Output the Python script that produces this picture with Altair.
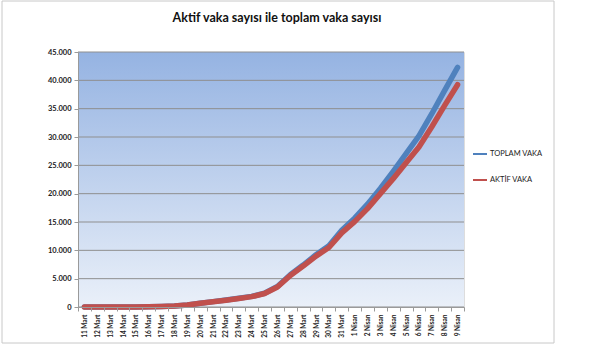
import altair as alt
import pandas as pd

dates = ["11 Mart", "12 Mart", "13 Mart", "14 Mart", "15 Mart", "16 Mart", "17 Mart",
         "18 Mart", "19 Mart", "20 Mart", "21 Mart", "22 Mart", "23 Mart", "24 Mart",
         "25 Mart", "26 Mart", "27 Mart", "28 Mart", "29 Mart", "30 Mart", "31 Mart",
         "1 Nisan", "2 Nisan", "3 Nisan", "4 Nisan", "5 Nisan", "6 Nisan", "7 Nisan",
         "8 Nisan", "9 Nisan"]
toplam = [1, 1, 5, 6, 18, 47, 98, 191, 359, 670, 947, 1236, 1529, 1872, 2433, 3629,
          5698, 7402, 9217, 10827, 13531, 15679, 18135, 20921, 23934, 27069, 30217,
          34109, 38226, 42282]
aktif = [1, 1, 5, 6, 18, 47, 97, 190, 356, 666, 938, 1206, 1492, 1828, 2374, 3528,
         5564, 7224, 8981, 10497, 13074, 15069, 17364, 20012, 22647, 25453, 28242,
         31802, 35568, 39232]
series_names = ["TOPLAM VAKA", "AKTİF VAKA"]
series_colors = ["#4f81bd", "#c0504d"]
y_ticks = [0, 5000, 10000, 15000, 20000, 25000, 30000, 35000, 40000, 45000]
title_text = ["Aktif vaka sayısı ile toplam vaka sayısı"]

W, H = 386, 255
FONT = "Lato"

df_t = pd.DataFrame({"tarih": dates, "vaka": toplam, "seri": series_names[0]})
df_a = pd.DataFrame({"tarih": dates, "vaka": aktif, "seri": series_names[1]})
df_grid = pd.DataFrame({"vaka": y_ticks})
df_one = pd.DataFrame({"a": [0]})
df_title = pd.DataFrame({"t": title_text})

xenc = alt.X("tarih:N", sort=dates, bandPosition=0.5,
             scale=alt.Scale(type="band", paddingInner=0, paddingOuter=0),
             axis=alt.Axis(title=None, labelAngle=270, labelFont=FONT, labelFontSize=6.5,
                           labelFontWeight="bold", labelColor="#222", labelPadding=3,
                           tickBand="extent", tickColor="#9a9a9a", tickSize=4,
                           domainColor="#9a9a9a", grid=False, zindex=1))
yscale = alt.Scale(domain=[0, 45000], nice=False)
yaxis = alt.Axis(title=None, values=y_ticks, grid=False,
                 labelExpr="replace(format(datum.value, ','), ',', '.')",
                 labelFont=FONT, labelFontSize=7.5, labelFontWeight="bold",
                 labelColor="#222", tickColor="#9a9a9a", tickSize=4,
                 domainColor="#9a9a9a", labelPadding=3, zindex=1)
yenc = alt.Y("vaka:Q", scale=yscale, axis=yaxis)
cenc = alt.Color("seri:N", scale=alt.Scale(domain=series_names, range=series_colors),
                 legend=alt.Legend(title=None, orient="none", legendX=394, legendY=94,
                                   symbolType="stroke", symbolSize=196, symbolStrokeWidth=2,
                                   labelFont=FONT, labelFontSize=7.5, labelColor="#222",
                                   rowPadding=14, labelOffset=2))

frame = alt.Chart(df_one).mark_rect(fill="transparent", stroke="#c8c8c8", strokeWidth=1).encode(
    x=alt.value(-76), x2=alt.value(476), y=alt.value(-51), y2=alt.value(291))

title = alt.Chart(df_title).mark_text(font=FONT, fontSize=12.5, fontWeight="bold",
                                      color="#111", align="center", baseline="middle").encode(
    text="t:N", x=alt.value(199), y=alt.value(-34))

bg = alt.Chart(df_one).mark_rect(
    color=alt.Gradient(gradient="linear",
                       stops=[alt.GradientStop(color="#95b3e2", offset=0),
                              alt.GradientStop(color="#eaf0f9", offset=1)],
                       x1=0, x2=0, y1=0, y2=1)).encode(
    x=alt.value(0), x2=alt.value(W), y=alt.value(0), y2=alt.value(H))

grid = alt.Chart(df_grid).mark_rule(color="#8f8f8f", strokeWidth=1).encode(y=yenc)

line_t = alt.Chart(df_t).mark_line(strokeWidth=5.5, strokeJoin="round", strokeCap="round").encode(
    x=xenc, y=yenc, color=cenc)
line_a = alt.Chart(df_a).mark_line(strokeWidth=5.5, strokeJoin="round", strokeCap="round").encode(
    x=xenc, y=yenc, color=cenc)

chart = alt.layer(frame, title, bg, grid, line_t, line_a).properties(
    width=W, height=H,
    autosize=alt.AutoSizeParams(type="none"),
    padding={"left": 78, "top": 52, "right": 150, "bottom": 39},
).configure_view(stroke=None).configure(background="white")

chart.save("out.html", embed_options={"renderer": "svg", "actions": False})
